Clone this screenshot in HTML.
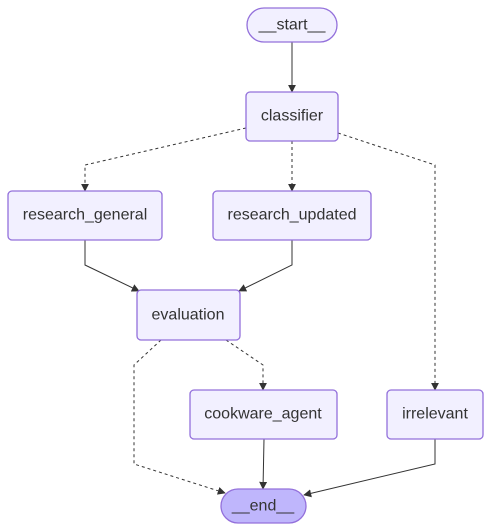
<!DOCTYPE html>
<html><head><style>body{margin:0;background:#fff}svg{display:block}text{font-family:"Liberation Sans",Arial,sans-serif;font-size:16px;fill:#333;text-anchor:middle;dominant-baseline:central}</style></head><body>
<svg width="491" height="531" viewBox="0 0 491 531" xmlns="http://www.w3.org/2000/svg">
<defs><marker id="a" viewBox="0 0 10 10" refX="9" refY="5" markerWidth="8" markerHeight="8" orient="auto"><path d="M0,0L10,5L0,10z" fill="#333"/></marker></defs>
<g fill="none" stroke="#333" stroke-width="1">
<path d="M292,42V92" marker-end="url(#a)"/>
<path d="M246,128L85,165V191" stroke-dasharray="3,3" marker-end="url(#a)"/>
<path d="M292,141V191" stroke-dasharray="3,3" marker-end="url(#a)"/>
<path d="M338,133L435,165V390" stroke-dasharray="3,3" marker-end="url(#a)"/>
<path d="M85,240V265L139,291" marker-end="url(#a)"/>
<path d="M292,240V265L239,291" marker-end="url(#a)"/>
<path d="M161,340L134,365V464L225,493" stroke-dasharray="3,3" marker-end="url(#a)"/>
<path d="M226,340L263,365V390" stroke-dasharray="3,3" marker-end="url(#a)"/>
<path d="M264,439L263,489" marker-end="url(#a)"/>
<path d="M435,439V464L304,495" marker-end="url(#a)"/>
</g>
<g stroke="#9370db" stroke-width="1.3" fill="#f2f0ff">
<rect x="247" y="8" width="90" height="34" rx="17"/>
<rect x="246" y="92" width="92" height="49" rx="4"/>
<rect x="8" y="191" width="154" height="49" rx="4"/>
<rect x="213" y="191" width="158" height="49" rx="4"/>
<rect x="137" y="290" width="103" height="50" rx="4"/>
<rect x="190" y="390" width="147" height="49" rx="4"/>
<rect x="387" y="390" width="96" height="49" rx="4"/>
<rect x="221" y="489" width="85" height="34" rx="17" fill="#bfb6fc"/>
</g>
<text x="292" y="25">__start__</text>
<text x="292" y="116">classifier</text>
<text x="85" y="215">research_general</text>
<text x="292" y="215">research_updated</text>
<text x="188" y="315">evaluation</text>
<text x="263" y="414">cookware_agent</text>
<text x="435" y="414">irrelevant</text>
<text x="263" y="506">__end__</text>
</svg>
</body></html>
